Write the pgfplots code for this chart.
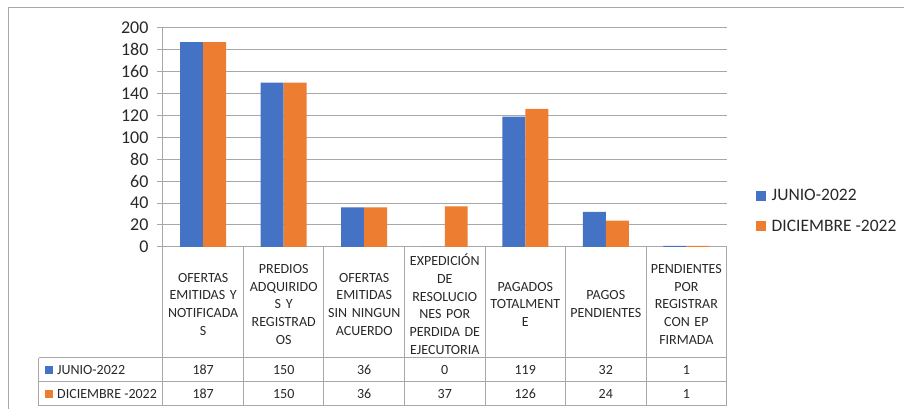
\documentclass[border=0pt]{standalone}
\usepackage{fontspec}
\setmainfont{Carlito}
\usepackage{pgfplots}
\pgfplotsset{compat=1.18}
\definecolor{junio}{HTML}{4472C4}
\definecolor{dic}{HTML}{ED7D31}
\definecolor{gridc}{RGB}{168,168,168}
\definecolor{txt}{RGB}{40,40,40}

\begin{document}
\begin{tikzpicture}[x=1pt,y=1pt]
\path (0,0) rectangle (904,409);
% outer chart frame (top and left edges visible)
\draw[gridc, line width=1pt] (904,401) -- (9,401) -- (9,0);
\begin{axis}[
  at={(163pt,162pt)}, anchor=south west,
  scale only axis, width=564pt, height=219pt,
  ybar=0pt, bar width=23pt,
  xmin=-0.5, xmax=6.5, ymin=0, ymax=200,
  ytick={0,20,...,200}, xtick={0,...,6},
  xticklabels={{OFERTAS\\EMITIDAS Y\\NOTIFICADA\\S},
               {PREDIOS\\ADQUIRIDO\\S Y\\REGISTRAD\\OS},
               {OFERTAS\\EMITIDAS\\SIN NINGUN\\ACUERDO},
               {EXPEDICIÓN\\DE\\RESOLUCIO\\NES POR\\PERDIDA DE\\EJECUTORIA},
               {PAGADOS\\TOTALMENT\\E},
               {PAGOS\\PENDIENTES},
               {PENDIENTES\\POR\\REGISTRAR\\CON EP\\FIRMADA}},
  xticklabel style={anchor=center, yshift=-51.5pt, align=center, text width=80pt,
    inner sep=0pt, font=\fontsize{14}{17.7}\selectfont, text=txt},
  yticklabel style={font=\fontsize{18}{18}\selectfont, text=txt, xshift=-5pt},
  /pgf/number format/assume math mode=true,
  axis x line*=bottom, axis y line*=left,
  axis line style={gridc, line width=1pt},
  ymajorgrids, grid style={gridc, line width=1pt},
  major tick length=6pt, tick align=outside,
  xtick style={draw=none}, ytick style={gridc, line width=1pt},
  clip=false,
  legend style={draw=none, at={(1.046,0.164)}, anchor=west,
    font=\fontsize{17.5}{17.5}\selectfont, text=txt, row sep=14pt,
    /tikz/every odd column/.append style={column sep=4pt}},
  legend cell align=left,
  legend image code/.code={\fill[#1] (0pt,-5pt) rectangle (10pt,5pt);},
]
\addplot[fill=junio, draw=none] coordinates {(0,187) (1,150) (2,36) (3,0) (4,119) (5,32) (6,1)};
\addplot[fill=dic, draw=none] coordinates {(0,187) (1,150) (2,36) (3,37) (4,126) (5,24) (6,1)};
\legend{JUNIO-2022, DICIEMBRE -2022}
\end{axis}
% data table grid
\begin{scope}[gridc, line width=1pt]
\foreach \yy in {51,27,3} \draw (39,\yy) -- (727,\yy);
\draw (39,51) -- (39,3);
\foreach \k in {0,...,7} \draw ({163+80.571*\k},162) -- ({163+80.571*\k},3);
\end{scope}
% row headers
\fill[junio] (45,35) rectangle (53,43);
\fill[dic] (45,11) rectangle (53,19);
\begin{scope}[font=\fontsize{14}{14}\selectfont, text=txt]
\node[anchor=west, inner sep=0pt] at (57,39) {JUNIO-2022};
\node[anchor=west, inner sep=0pt] at (57,15) {DICIEMBRE -2022};
\foreach \v [count=\i from 0] in {187,150,36,0,119,32,1}
  \node at ({163+80.571*(\i+0.5)},39) {\v};
\foreach \v [count=\i from 0] in {187,150,36,37,126,24,1}
  \node at ({163+80.571*(\i+0.5)},15) {\v};
\end{scope}
\end{tikzpicture}
\end{document}
